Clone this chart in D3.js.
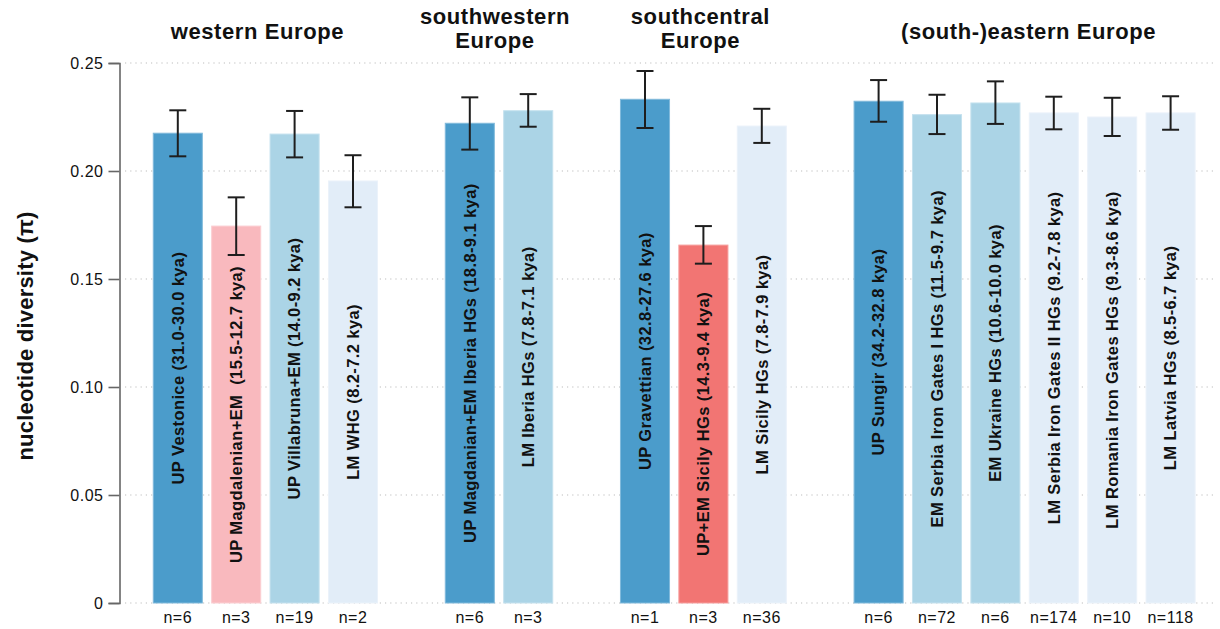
<!DOCTYPE html>
<html>
<head>
<meta charset="utf-8">
<script src="https://cdn.jsdelivr.net/npm/d3@7"></script>
<style>
  html, body { margin: 0; padding: 0; background: #fff; }
  svg { display: block; }
  text { font-family: "Liberation Sans", Arial, Helvetica, sans-serif; fill: #111; }
</style>
</head>
<body>
<svg id="chart" width="1220" height="629"></svg>
<script>
// Regions (group titles), one per panel of bars
const regions = ["western Europe", "southwestern\nEurope", "southcentral\nEurope", "(south-)eastern Europe"];

// One entry per bar
const sampleLabels = [
  "UP Vestonice (31.0-30.0 kya)",
  "UP Magdalenian+EM  (15.5-12.7 kya)",
  "UP Villabruna+EM (14.0-9.2 kya)",
  "LM WHG (8.2-7.2 kya)",
  "UP Magdanian+EM Iberia HGs (18.8-9.1 kya)",
  "LM Iberia HGs (7.8-7.1 kya)",
  "UP Gravettian (32.8-27.6 kya)",
  "UP+EM Sicily HGs (14.3-9.4 kya)",
  "LM Sicily HGs (7.8-7.9 kya)",
  "UP Sungir (34.2-32.8 kya)",
  "EM Serbia Iron Gates I HGs (11.5-9.7 kya)",
  "EM Ukraine HGs (10.6-10.0 kya)",
  "LM Serbia Iron Gates II HGs (9.2-7.8 kya)",
  "LM Romania Iron Gates HGs (9.3-8.6 kya)",
  "LM Latvia HGs (8.5-6.7 kya)"
];
const regionOf   = [0, 0, 0, 0, 1, 1, 2, 2, 2, 3, 3, 3, 3, 3, 3];
const periodOf   = ["UP", "UPw", "EM", "LM", "UP", "EM", "UP", "UPs", "LM", "UP", "EM", "EM", "LM", "LM", "LM"];
const diversity  = [0.2175, 0.1745, 0.2171, 0.1954, 0.2221, 0.2279, 0.2332, 0.1657, 0.2208, 0.2323, 0.2261, 0.2315, 0.2269, 0.2250, 0.2269];
const ciLow      = [0.2068, 0.1611, 0.2063, 0.1832, 0.2099, 0.2205, 0.2199, 0.1571, 0.2130, 0.2228, 0.2171, 0.2218, 0.2193, 0.2162, 0.2191];
const ciHigh     = [0.2281, 0.1878, 0.2278, 0.2073, 0.2341, 0.2356, 0.2463, 0.1745, 0.2288, 0.2421, 0.2353, 0.2415, 0.2344, 0.2339, 0.2346];
const sampleSize = [6, 3, 19, 2, 6, 3, 1, 3, 36, 6, 72, 6, 174, 10, 118];

// Axis ticks
const yTicks = [0, 0.05, 0.10, 0.15, 0.20, 0.25];
const yTickLabels = ["0", "0.05", "0.10", "0.15", "0.20", "0.25"];

const periodColour = d3.scaleOrdinal()
  .domain(["UP", "UPw", "EM", "LM", "UPs"])
  .range(["#4b9ccb", "#f9b9be", "#abd4e6", "#e2edf8", "#f27573"]);

// Small horizontal nudges for the region titles (px)
const titleNudge = [-8, -4, -3, 4];

const svg = d3.select("#chart");

// Slots: each region after the first is preceded by one empty slot
const slotOf = regionOf.map((g, i) => i + g);
const nSlots = d3.max(slotOf) + 1;

const x = d3.scaleBand()
  .domain(d3.range(nSlots))
  .range([148.6, 1199.8])
  .paddingInner(0.16)
  .paddingOuter(0.08);

const y = d3.scaleLinear().domain([0, 0.25]).range([603, 63]);

// Dotted horizontal grid
svg.append("g").selectAll("line")
  .data(yTicks)
  .join("line")
  .attr("x1", 125).attr("x2", 1214)
  .attr("y1", d => y(d)).attr("y2", d => y(d))
  .attr("stroke", "#bdbdbd")
  .attr("stroke-width", 1.2)
  .attr("stroke-dasharray", "1.2,4");

// Y axis
const yAxis = d3.axisLeft(y)
  .tickValues(yTicks)
  .tickFormat((d, i) => yTickLabels[i])
  .tickSize(11)
  .tickPadding(5);

const axisG = svg.append("g")
  .attr("transform", "translate(119.5,0)")
  .call(yAxis);
axisG.select(".domain").attr("stroke", "#666").attr("stroke-width", 1.6);
axisG.selectAll(".tick line").attr("stroke", "#666").attr("stroke-width", 1.6);
axisG.selectAll(".tick text")
  .style("font-family", "'Liberation Sans', Arial, sans-serif")
  .style("font-size", "16px")
  .style("letter-spacing", "0.5px")
  .attr("fill", "#1a1a1a");

// Y axis title
svg.append("text")
  .attr("transform", "translate(33,336) rotate(-90)")
  .attr("text-anchor", "middle")
  .style("font-size", "22px")
  .style("font-weight", "bold")
  .style("letter-spacing", "0.2px")
  .text("nucleotide diversity (\u03c0)");

const idx = d3.range(diversity.length);

// Bars
svg.append("g").selectAll("rect")
  .data(idx)
  .join("rect")
  .attr("x", i => x(slotOf[i]))
  .attr("width", x.bandwidth())
  .attr("y", i => y(diversity[i]))
  .attr("height", i => y(0) - y(diversity[i]))
  .attr("fill", i => periodColour(periodOf[i]))
  .attr("stroke", i => d3.interpolateRgb(periodColour(periodOf[i]), "#ffffff")(0.3))
  .attr("stroke-width", 1);

// Error bars
const eb = svg.append("g").attr("stroke", "#1e1e1e").attr("stroke-width", 2);
const cx = i => x(slotOf[i]) + x.bandwidth() / 2;
eb.selectAll("line.stem").data(idx).join("line").attr("class", "stem")
  .attr("x1", cx).attr("x2", cx)
  .attr("y1", i => y(ciLow[i])).attr("y2", i => y(ciHigh[i]));
eb.selectAll("line.capHi").data(idx).join("line").attr("class", "capHi")
  .attr("x1", i => cx(i) - 8.5).attr("x2", i => cx(i) + 8.5)
  .attr("y1", i => y(ciHigh[i])).attr("y2", i => y(ciHigh[i]));
eb.selectAll("line.capLo").data(idx).join("line").attr("class", "capLo")
  .attr("x1", i => cx(i) - 8.5).attr("x2", i => cx(i) + 8.5)
  .attr("y1", i => y(ciLow[i])).attr("y2", i => y(ciLow[i]));

// Rotated bar labels, centred halfway up each bar
svg.append("g").selectAll("text")
  .data(idx)
  .join("text")
  .attr("transform", i => `translate(${cx(i)},${y(diversity[i] / 2)}) rotate(-90)`)
  .attr("text-anchor", "middle")
  .attr("dy", "0.35em")
  .style("font-size", "16.5px")
  .style("font-weight", "bold")
  .style("letter-spacing", "0.4px")
  .style("white-space", "pre")
  .text(i => sampleLabels[i]);

// Sample sizes under the axis
svg.append("g").selectAll("text")
  .data(idx)
  .join("text")
  .attr("x", cx)
  .attr("y", 623)
  .attr("text-anchor", "middle")
  .style("font-size", "16px")
  .style("letter-spacing", "0.5px")
  .text(i => "n=" + sampleSize[i]);

// Region titles, centred over their bars
const titleG = svg.append("g");
regions.forEach((name, g) => {
  const members = idx.filter(i => regionOf[i] === g);
  const mid = d3.mean(members, cx) + titleNudge[g];
  const lines = name.split("\n");
  const t = titleG.append("text")
    .attr("text-anchor", "middle")
    .style("font-size", "22px")
    .style("font-weight", "bold")
    .style("letter-spacing", "0.6px");
  if (lines.length === 1) {
    t.append("tspan").attr("x", mid).attr("y", 39).text(lines[0]);
  } else {
    t.append("tspan").attr("x", mid).attr("y", 24).text(lines[0]);
    t.append("tspan").attr("x", mid).attr("y", 48).text(lines[1]);
  }
});
</script>
</body>
</html>
